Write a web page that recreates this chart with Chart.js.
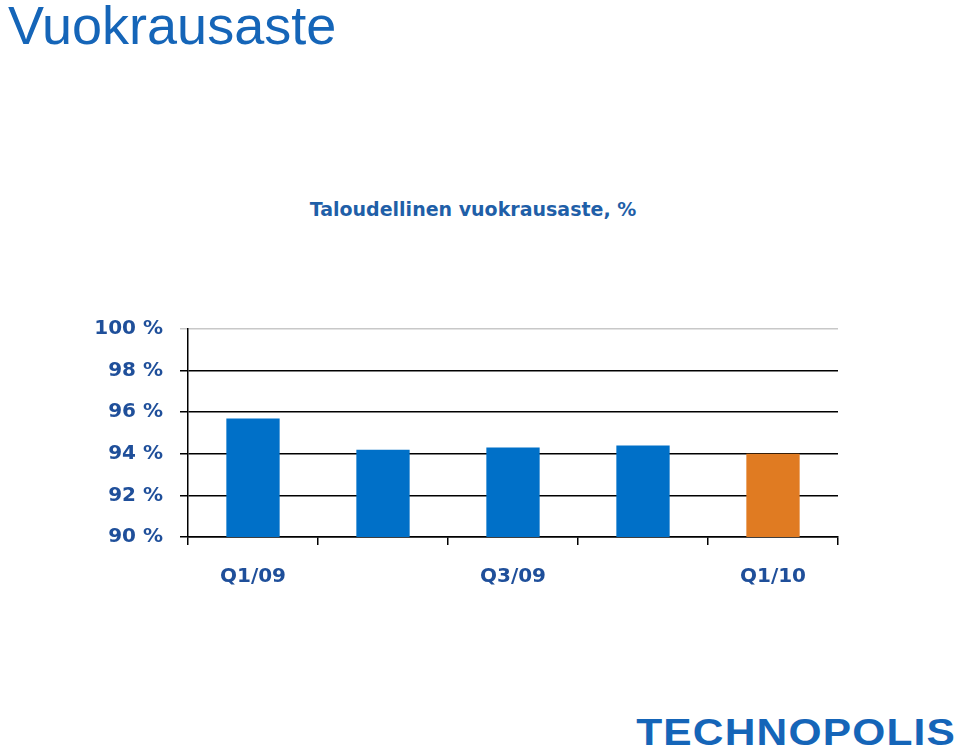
<!DOCTYPE html>
<html>
<head>
<meta charset="utf-8">
<script src="https://cdn.jsdelivr.net/npm/chart.js@4"></script>
<style>
body{margin:0;width:960px;height:755px;background:#fff;position:relative;overflow:hidden;font-family:"DejaVu Sans",sans-serif;}
#head{position:absolute;left:8px;top:-6px;font-family:"Liberation Sans",Arial,sans-serif;font-size:54px;color:#1565b8;}
#sub{position:absolute;left:0;width:946px;top:198px;text-align:center;font-weight:bold;font-size:19px;color:#1f5fa8;}
#box{position:absolute;left:0;top:300px;width:850px;height:300px;}
#logo{position:absolute;right:4px;top:712px;font-family:"Liberation Sans",Arial,sans-serif;font-weight:bold;font-size:36px;color:#1565b8;letter-spacing:1px;transform:scaleX(1.18);transform-origin:right;}
</style>
</head>
<body>
<div id="head">Vuokrausaste</div>
<div id="sub">Taloudellinen vuokrausaste, %</div>
<div id="box"><canvas id="myChart"></canvas></div>
<div id="logo">TECHNOPOLIS</div>
<script>
var quarters = ["Q1/09", "Q2/09", "Q3/09", "Q4/09", "Q1/10"];
var rates = [95.7, 94.2, 94.3, 94.4, 94.0];
var barColors = ["#0070c8", "#0070c8", "#0070c8", "#0070c8", "#e07b22"];

new Chart("myChart", {
    type: "bar",
    data: {
        labels: quarters,
        datasets: [{
            data: rates,
            backgroundColor: barColors,
            barPercentage: 0.41,
            categoryPercentage: 1
        }]
    },
    options: {
        responsive: true,
        maintainAspectRatio: false,
        animation: false,
        layout: { padding: { top: 15, right: 12, bottom: 0, left: 0 } },
        plugins: { legend: { display: false }, tooltip: { enabled: false } },
        scales: {
            y: {
                min: 90,
                max: 100,
                afterFit: function(s){ s.width = 188; },
                ticks: {
                    stepSize: 2,
                    padding: 17,
                    color: "#1f4f9a",
                    font: { family: "DejaVu Sans", size: 20, weight: "bold" },
                    callback: function(v){ return v + " %"; }
                },
                grid: {
                    color: function(c){ return c.tick && c.tick.value === 100 ? "#c8c8c8" : "#000"; },
                    tickLength: 8,
                    lineWidth: 1.5
                },
                border: { color: "#000", width: 1.5 }
            },
            x: {
                afterFit: function(s){ s.height = 63; },
                ticks: {
                    padding: 20,
                    color: "#1f4f9a",
                    autoSkip: false,
                    maxRotation: 0,
                    font: { family: "DejaVu Sans", size: 20, weight: "bold" },
                    callback: function(v, i){ return i % 2 === 0 ? quarters[i] : ""; }
                },
                grid: { offset: true, drawOnChartArea: false, tickLength: 8, color: "#000", lineWidth: 1.5 },
                border: { color: "#000", width: 1.5 }
            }
        }
    }
});
</script>
</body>
</html>
